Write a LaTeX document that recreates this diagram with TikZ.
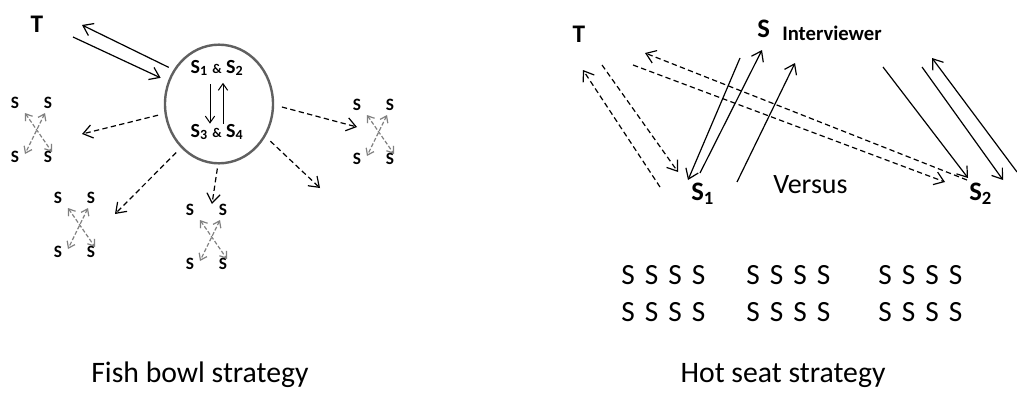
\documentclass[tikz,border=0pt]{standalone}
\usepackage{fontspec}
\setmainfont{Carlito}
\usetikzlibrary{arrows.meta,shapes.geometric}

\begin{document}
\begin{tikzpicture}[x=0.75pt,y=0.75pt,yscale=-1,xscale=1,
  arr/.style={-{Straight Barb[length=7pt,width=10pt]},line width=0.9pt},
  thinarr/.style={-{Straight Barb[length=5pt,width=7pt]},line width=0.75pt},
  dasharr/.style={arr,dash pattern=on 4pt off 2.5pt},
  grayarr/.style={{Straight Barb[length=4.5pt,width=6.5pt]}-{Straight Barb[length=4.5pt,width=6.5pt]},draw=gray,line width=0.9pt,dash pattern=on 3pt off 1.5pt},
  smalls/.style={font=\bfseries\fontsize{13}{15}\selectfont,inner sep=0pt},
  bigs/.style={font=\fontsize{22}{26}\selectfont,inner sep=0pt},
  tee/.style={font=\bfseries\fontsize{19}{22}\selectfont,inner sep=0pt,anchor=base}]
\useasboundingbox (0,0) rectangle (1017,396);

%% Fish bowl
\node[tee] (tl) at (37,32) {T};
\node[ellipse,draw=gray!75!black,line width=1.8pt,minimum width=81pt,minimum height=89pt] (bowl) at (219,104) {};
\node[font=\bfseries\fontsize{15}{17}\selectfont,inner sep=0pt,anchor=base] (s12) at (217,73) {S\textsubscript{1} {\fontsize{10}{12}\selectfont\&} S\textsubscript{2}};
\node[font=\bfseries\fontsize{15}{17}\selectfont,inner sep=0pt,anchor=base] (s34) at (217,137) {S\textsubscript{3} {\fontsize{10}{12}\selectfont\&} S\textsubscript{4}};
\draw[thinarr,shorten <=6pt] ([xshift=-5.25pt]s12.south) -- ([xshift=-5.25pt]s34.north);
\draw[thinarr,shorten >=5pt] ([xshift=4.5pt]s34.north) -- ([xshift=4.5pt]s12.south);

% teacher and the bowl
\coordinate (tup) at (82,25);
\coordinate (tlow) at (73,37);
\draw[arr,shorten <=4pt] (bowl.143) -- (tup);
\draw[arr,shorten >=6pt] (tlow) -- (bowl.156);

% outer circle of students
\coordinate (ea) at (82,134);
\coordinate (eb) at (115,214);
\coordinate (ec) at (212,204);
\coordinate (ed) at (357,127);
\coordinate (ee) at (320,188);
\draw[dasharr,shorten <=5pt] (bowl.190) -- (ea);
\draw[dasharr,shorten <=5pt] (bowl.229) -- (eb);
\draw[dasharr,shorten <=3pt] (bowl.269) -- (ec);
\draw[dasharr,shorten <=6pt] (bowl.359) -- (ed);
\draw[dasharr,shorten <=5pt] (bowl.325) -- (ee);

\foreach \cx/\cy/\n in {15/103/a,58/198/b,190/210/c,357/105/d}{
  \begin{scope}[shift={(\cx,\cy)}]
    \node[smalls] (\n1) at (0,0) {S};
    \node[smalls] (\n2) at (33,0) {S};
    \node[smalls] (\n3) at (0,54) {S};
    \node[smalls] (\n4) at (33,54) {S};
    \coordinate (\n tl) at (10,10);
    \coordinate (\n tr) at (30,10);
    \coordinate (\n bl) at (10,51);
    \coordinate (\n br) at (37,49);
    \draw[grayarr] (\n tl) -- (\n br);
    \draw[grayarr] (\n tr) -- (\n bl);
  \end{scope}
}

%% Hot seat
\node[tee] (tr) at (579,42) {T};
\node[font=\bfseries\fontsize{20}{23}\selectfont,inner sep=0pt,anchor=base west] (si) at (757,37) {S};
\node[font=\bfseries\fontsize{15.5}{17}\selectfont,inner sep=0pt,anchor=base west] (iv) at (782,40) {Interviewer};
\node[font=\bfseries\fontsize{20}{23}\selectfont,inner sep=0pt,anchor=base west] (hs1) at (691,200) {S\textsubscript{1}};
\node[font=\bfseries\fontsize{20}{23}\selectfont,inner sep=0pt,anchor=base west] (hs2) at (969,200) {S\textsubscript{2}};
\node[font=\fontsize{21}{24}\selectfont,inner sep=0pt,anchor=base west] (vs) at (773,193) {Versus};

\coordinate (pa1) at (660,187);
\coordinate (pa2) at (583,70);
\coordinate (pb1) at (602,65);
\coordinate (pb2) at (678,172);
\draw[dasharr] (pa1) -- (pa2);
\draw[dasharr] (pb1) -- (pb2);

\coordinate (qa1) at (740,58);
\coordinate (qa2) at (688,180);
\coordinate (qb1) at (700,173);
\coordinate (qb2) at (762,50);
\coordinate (qc1) at (737,182);
\coordinate (qc2) at (795,63);
\draw[arr] (qa1) -- (qa2);
\draw[arr] (qb1) -- (qb2);
\draw[arr] (qc1) -- (qc2);

\coordinate (ra1) at (967,180);
\coordinate (ra2) at (645,53);
\coordinate (rb1) at (633,65);
\coordinate (rb2) at (945,182);
\draw[dasharr] (ra1) -- (ra2);
\draw[dasharr] (rb1) -- (rb2);

\coordinate (ua1) at (883,67);
\coordinate (ua2) at (968,178);
\coordinate (ub1) at (922,67);
\coordinate (ub2) at (1003,180);
\coordinate (uc1) at (1017,172);
\coordinate (uc2) at (932,58);
\draw[arr] (ua1) -- (ua2);
\draw[arr] (ub1) -- (ub2);
\draw[arr] (uc1) -- (uc2);

% the class
\foreach \gx in {628,753,885}{
  \foreach \gy in {275,312}{
    \foreach \k in {0,...,3}{
      \node[bigs] (g\gx-\gy-\k) at (\gx+23.5*\k,\gy) {S};
    }
  }
}

%% captions
\node[font=\fontsize{22.3}{25}\selectfont,inner sep=0pt,anchor=base] (cap1) at (200,382) {Fish bowl strategy};
\node[font=\fontsize{22.3}{25}\selectfont,inner sep=0pt,anchor=base] (cap2) at (783,382) {Hot seat strategy};

\end{tikzpicture}
\end{document}
